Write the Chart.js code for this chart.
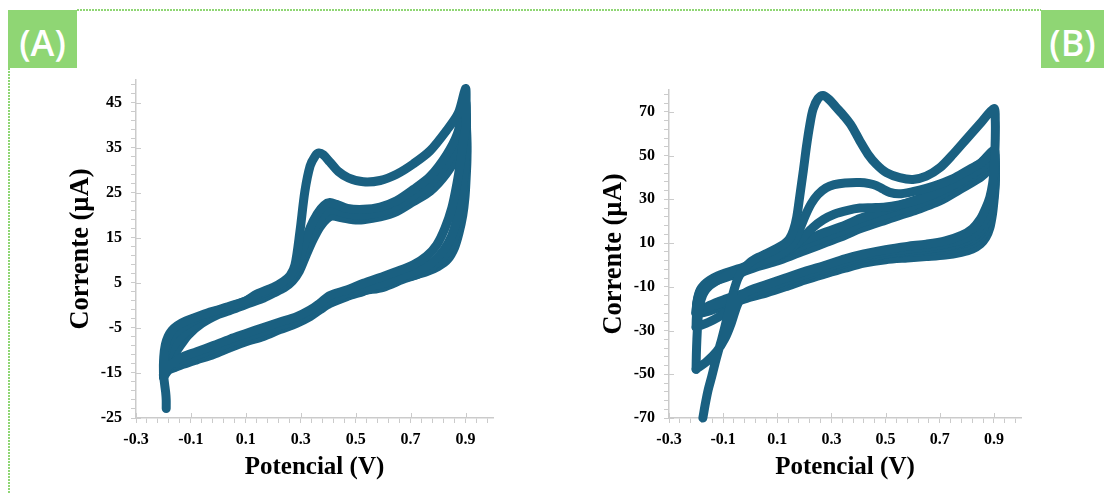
<!DOCTYPE html>
<html>
<head>
<meta charset="utf-8">
<script src="https://cdn.jsdelivr.net/npm/chart.js@4/dist/chart.umd.min.js"></script>
<style>
  html, body { margin: 0; padding: 0; background: #ffffff; }
  #stage { position: relative; width: 1104px; height: 493px; overflow: hidden; background: #ffffff; }
  .panel { position: absolute; top: 0; height: 493px; }
  .tag {
    position: absolute; top: 10px; height: 58px; background: #8fd674; color: #ffffff;
    font-family: "Open Sans", sans-serif; font-weight: 600; font-size: 36px;
    display: flex; align-items: center; justify-content: center; z-index: 3;
  }
  .tag span { position: relative; top: 3px; }
  #dotTop {
    position: absolute; left: 77px; top: 9px; width: 964px; height: 2px; z-index: 2;
    background-image: repeating-linear-gradient(to right, #8fd674 0 2px, transparent 2px 3px);
  }
  #dotLeft {
    position: absolute; left: 8px; top: 68px; width: 2px; height: 425px; z-index: 2;
    background-image: repeating-linear-gradient(to bottom, #8fd674 0 2px, transparent 2px 3px);
  }
</style>
</head>
<body>
<div id="stage">
  <div id="dotTop"></div>
  <div id="dotLeft"></div>
  <div class="tag" style="left:8px;width:69px;"><span>(A)</span></div>
  <div class="tag" style="left:1041px;width:63px;"><span>(B)</span></div>
  <div class="panel" style="left:0;width:530px;"><canvas id="chartA" width="530" height="493"></canvas></div>
  <div class="panel" style="left:530px;width:574px;"><canvas id="chartB" width="574" height="493"></canvas></div>
</div>
<script>
// ---- shared axis ticks (potential, V) ----
const xTicks = [-0.3, -0.26, -0.22, -0.18, -0.14, -0.1, -0.06, -0.02, 0.02, 0.06, 0.1, 0.14, 0.18, 0.22, 0.26,
  0.3, 0.34, 0.38, 0.42, 0.46, 0.5, 0.54, 0.58, 0.62, 0.66, 0.7, 0.74, 0.78, 0.82, 0.86, 0.9, 0.94, 0.98];
const xLabels = [-0.3, -0.1, 0.1, 0.3, 0.5, 0.7, 0.9];

// ---- panel A current ticks (µA) ----
const aYTicks = [-25, -23, -21, -19, -17, -15, -13, -11, -9, -7, -5, -3, -1, 1, 3, 5, 7, 9, 11, 13, 15, 17, 19,
  21, 23, 25, 27, 29, 31, 33, 35, 37, 39, 41, 43, 45, 47, 49];
const aYLabels = [-25, -15, -5, 5, 15, 25, 35, 45];

// ---- panel B current ticks (µA) ----
const bYTicks = [-70, -66, -62, -58, -54, -50, -46, -42, -38, -34, -30, -26, -22, -18, -14, -10, -6, -2, 2, 6, 10,
  14, 18, 22, 26, 30, 34, 38, 42, 46, 50, 54, 58, 62, 66, 70, 74, 78];
const bYLabels = [-70, -50, -30, -10, 10, 30, 50, 70];

// ---- panel A voltammograms: potential (V) / current (µA), forward then reverse sweep ----
const aV1 = [-0.19, -0.19, -0.192, -0.196, -0.2, -0.199, -0.193, -0.183, -0.17, -0.15, -0.12, -0.08, -0.04, 0.0, 0.04,
  0.1, 0.14, 0.2, 0.237, 0.261, 0.279, 0.297, 0.315, 0.334, 0.352, 0.366, 0.382, 0.406, 0.437, 0.473, 0.528, 0.589,
  0.649, 0.71, 0.771, 0.831, 0.874, 0.9,
  0.902, 0.902, 0.892, 0.882, 0.868, 0.85, 0.825, 0.795, 0.758, 0.71, 0.649, 0.589, 0.528, 0.467, 0.406, 0.37, 0.334,
  0.285, 0.224, 0.164, 0.103, 0.042, -0.018, -0.079, -0.128, -0.158, -0.182, -0.2];
const aI1 = [-22.9, -21.0, -19.3, -17.4, -15.0, -11.5, -8.7, -6.9, -5.6, -4.5, -3.5, -2.6, -1.7, -1.0, -0.2,
  1.0, 2.5, 4.0, 5.3, 6.6, 9.0, 16.4, 25.3, 30.9, 33.1, 33.8, 33.4, 31.8, 29.7, 28.3, 27.4, 27.7,
  29.1, 31.4, 34.3, 38.8, 42.7, 48.1,
  44.6, 40.1, 36.4, 32.0, 26.8, 21.6, 17.1, 13.4, 10.9, 9.0, 7.5, 6.2, 4.9, 3.4, 2.2, 0.5, -1.0,
  -2.5, -3.7, -4.9, -6.2, -7.5, -8.9, -10.3, -11.4, -12.5, -13.6, -15.1];

const aV2 = [-0.2, -0.198, -0.19, -0.178, -0.16, -0.13, -0.09, -0.04, 0.0, 0.04, 0.1, 0.16, 0.2, 0.24, 0.265, 0.285,
  0.31, 0.334, 0.36, 0.385, 0.406, 0.43, 0.47, 0.528, 0.589, 0.649, 0.71, 0.771, 0.831, 0.87, 0.9,
  0.903, 0.903, 0.9, 0.895, 0.885, 0.87, 0.85, 0.82, 0.78, 0.73, 0.67, 0.6, 0.528, 0.467, 0.406, 0.37, 0.334, 0.285,
  0.224, 0.164, 0.103, 0.042, -0.018, -0.079, -0.128, -0.158, -0.182, -0.2];
const aI2 = [-15.1, -12.5, -9.8, -7.9, -6.3, -4.8, -3.4, -2.0, -1.1, -0.4, 1.0, 2.6, 3.6, 4.8, 6.0, 8.3,
  13.0, 17.2, 20.3, 22.2, 22.8, 22.4, 21.5, 21.3, 21.8, 23.2, 25.7, 28.6, 33.4, 38.0, 45.0,
  41, 37, 33, 29, 24, 19.5, 15.5, 12.2, 9.6, 7.8, 6.4, 4.8, 3.9, 2.6, 1.3, -0.3, -1.8, -3.3,
  -4.5, -5.8, -7.0, -8.3, -9.7, -11.1, -12.2, -13.0, -14.0, -15.4];

const aV3 = [-0.2, -0.198, -0.192, -0.182, -0.165, -0.14, -0.1, -0.05, 0.0, 0.04, 0.1, 0.16, 0.2, 0.24, 0.265, 0.29,
  0.315, 0.34, 0.365, 0.39, 0.41, 0.44, 0.48, 0.528, 0.589, 0.649, 0.71, 0.771, 0.831, 0.87, 0.9,
  0.904, 0.904, 0.9, 0.894, 0.884, 0.87, 0.85, 0.82, 0.78, 0.73, 0.67, 0.6, 0.528, 0.467, 0.406, 0.37, 0.334, 0.285,
  0.224, 0.164, 0.103, 0.042, -0.018, -0.079, -0.128, -0.158, -0.182, -0.2];
const aI3 = [-15.4, -14.2, -12.8, -11.0, -9.2, -7.3, -5.0, -3.1, -1.6, -0.9, 0.6, 2.0, 3.2, 4.3, 5.6, 7.8,
  12.0, 15.8, 18.7, 20.6, 21.2, 20.8, 20.2, 20.0, 20.6, 22.0, 24.3, 27.0, 31.5, 35.5, 42.5,
  38, 34, 30, 25.5, 21, 17, 13.5, 10.8, 8.6, 7.0, 5.7, 4.0, 3.2, 2.1, 0.8, -0.7, -2.2, -3.7,
  -5.0, -6.4, -7.5, -8.9, -10.3, -11.6, -12.7, -13.4, -14.2, -15.8];

const aV4 = [-0.2, -0.2, -0.195, -0.185, -0.17, -0.148, -0.11, -0.06, 0.0, 0.04, 0.1, 0.16, 0.2, 0.24, 0.27, 0.295,
  0.32, 0.345, 0.37, 0.395, 0.415, 0.45, 0.49, 0.528, 0.589, 0.649, 0.71, 0.771, 0.831, 0.87, 0.9,
  0.905, 0.905, 0.902, 0.898, 0.89, 0.876, 0.86, 0.835, 0.8, 0.76, 0.71, 0.649, 0.589, 0.528, 0.467, 0.406, 0.37,
  0.334, 0.285, 0.224, 0.164, 0.103, 0.042, -0.018, -0.079, -0.128, -0.158, -0.182, -0.2];
const aI4 = [-15.8, -15.2, -14.5, -13.3, -11.8, -9.8, -6.6, -4.0, -2.0, -1.2, 0.2, 1.5, 2.7, 3.9, 5.4, 7.6,
  11.2, 14.6, 17.4, 19.2, 19.8, 19.4, 19.0, 19.0, 19.6, 20.8, 23.0, 25.3, 29.3, 33.5, 40.5,
  36, 32, 28, 24, 20, 16, 12.8, 10.2, 8.6, 7.5, 6.6, 5.6, 4.4, 3.1, 1.9, 0.4, -1.0,
  -2.5, -4.0, -5.4, -6.9, -8.0, -9.4, -10.9, -12.1, -13.1, -13.8, -14.4, -16.0];

// ---- panel B voltammograms ----
const bV1 = [-0.175, -0.165, -0.155, -0.142, -0.13, -0.118, -0.106, -0.093, -0.081, -0.07, -0.06, -0.045, -0.025, 0.0,
  0.03, 0.06, 0.097, 0.125, 0.145, 0.16, 0.172, 0.183, 0.196, 0.208, 0.22, 0.232, 0.25, 0.269, 0.29, 0.318, 0.349,
  0.374, 0.405, 0.435, 0.466, 0.503, 0.552, 0.601, 0.65, 0.7, 0.749, 0.798, 0.847, 0.9,
  0.905, 0.905, 0.903, 0.9, 0.895, 0.885, 0.87, 0.85, 0.82, 0.78, 0.72, 0.65, 0.58, 0.5, 0.42, 0.35, 0.28, 0.2,
  0.13, 0.06, 0.0, -0.03, -0.05, -0.07, -0.093, -0.124, -0.161, -0.2];
const bI1 = [-70, -63, -57, -51, -45, -39.5, -34.3, -28, -22, -16.5, -11.5, -6, -2, 1.2,
  3.5, 5.2, 7.5, 9.5, 12, 16, 22, 31.5, 43, 54.4, 64, 71.2, 76, 77.5, 75.8, 72, 67.7,
  63.6, 56.7, 50.6, 46, 42.2, 39.9, 39.1, 40.6, 44.4, 50.6, 57.5, 64.3, 71.5,
  66, 58, 50, 43, 37, 31, 26, 21, 16.5, 13.5, 11, 9.5, 8.5, 7, 5, 2.8, 0, -3,
  -6, -9, -11.5, -14, -19, -26.6, -33.5, -39.6, -44.2, -47.7];

const bV2 = [-0.2, -0.199, -0.197, -0.194, -0.19, -0.182, -0.17, -0.15, -0.12, -0.09, -0.05, 0.0, 0.05, 0.1, 0.14,
  0.165, 0.185, 0.205, 0.225, 0.25, 0.28, 0.31, 0.35, 0.405, 0.44, 0.466, 0.49, 0.515, 0.55, 0.6, 0.65, 0.7, 0.75,
  0.8, 0.85, 0.9,
  0.905, 0.905, 0.903, 0.9, 0.895, 0.885, 0.87, 0.85, 0.82, 0.78, 0.72, 0.65, 0.58, 0.5, 0.42, 0.35, 0.28, 0.2,
  0.13, 0.06, 0.0, -0.05, -0.1, -0.15, -0.2];
const bI2 = [-47.7, -41, -34, -27, -21, -16, -12.5, -9.5, -7, -5, -2.8, -0.5, 1.8, 4.2, 7.5,
  11.5, 17, 23, 28, 32.2, 35.2, 36.7, 37.5, 37.7, 37.2, 36.3, 34.7, 33.2, 32.5, 33.5, 35, 37, 39.5,
  43, 46.5, 51,
  47, 43, 39, 35, 31, 26, 21.5, 17.5, 14, 11.5, 9.5, 8.2, 7.2, 6, 4, 1.5, -1.2, -4.5,
  -7.5, -10.5, -13, -17, -22.5, -26, -28.5];

const bV3 = [-0.2, -0.199, -0.196, -0.19, -0.18, -0.165, -0.14, -0.11, -0.07, -0.03, 0.0, 0.05, 0.1, 0.15, 0.19,
  0.23, 0.27, 0.31, 0.36, 0.405, 0.45, 0.5, 0.55, 0.6, 0.65, 0.7, 0.75, 0.8, 0.85, 0.9,
  0.905, 0.905, 0.903, 0.9, 0.895, 0.885, 0.87, 0.85, 0.82, 0.78, 0.72, 0.65, 0.58, 0.5, 0.42, 0.35, 0.28, 0.2,
  0.13, 0.06, 0.0, -0.05, -0.1, -0.15, -0.2];
const bI3 = [-28.5, -24, -20, -16, -12.5, -10, -7.8, -5.8, -3.6, -1.6, -0.3, 2, 4.3, 7.5, 12,
  17, 20.7, 23.2, 25, 26, 26.2, 26.5, 27.5, 29, 31, 33.5, 36.5, 40, 44, 49,
  45, 41, 37, 33, 28.5, 23.5, 19, 15.5, 12.5, 10.2, 8.4, 7.2, 6.3, 5, 3, 0.6, -2.2, -5.5,
  -8.5, -11.5, -13.5, -15.3, -17.2, -19.2, -22];

const bV4 = [-0.2, -0.198, -0.193, -0.185, -0.17, -0.15, -0.12, -0.087, -0.05, -0.026, 0.0, 0.036, 0.1, 0.159, 0.2,
  0.25, 0.282, 0.35, 0.405, 0.5, 0.6, 0.65, 0.7, 0.774, 0.85, 0.9,
  0.905, 0.905, 0.903, 0.9, 0.895, 0.885, 0.87, 0.85, 0.82, 0.78, 0.72, 0.65, 0.58, 0.5, 0.42, 0.35, 0.28, 0.2,
  0.13, 0.06, 0.0, -0.05, -0.1, -0.15, -0.2];
const bI4 = [-22, -18, -14.5, -11.5, -9, -7, -5, -3.5, -2, -1, 0.3, 2.8, 5.5, 8.8, 11.2,
  13.6, 15.2, 18.2, 21.2, 25.2, 29.2, 31.5, 34, 40.5, 46.5, 52.5,
  48, 44, 40, 35.5, 30, 24, 18.5, 14, 11.3, 9.5, 8.3, 7.5, 7, 6.2, 4.4, 2.2, -0.6, -4,
  -7.2, -10.2, -12.2, -14, -16, -18.5, -22];

const bV5 = bV4;
const bI5 = [-22, -18.5, -15, -12, -9.5, -7.8, -6, -4.5, -3, -2, -0.8, 1.5, 4, 7, 9.2,
  11.5, 13, 16, 19, 23, 27, 29.3, 31.7, 37, 42.5, 47.5,
  43.5, 39.5, 35.5, 31.5, 26.5, 20.5, 15.5, 12.2, 9.8, 8.2, 7.0, 6.3, 5.8, 5.0, 3.2, 1.0, -1.5, -4.5,
  -7.8, -10.8, -13, -15, -17, -19.5, -22];

const bV6 = bV4;
const bI6 = [-22, -19, -15.5, -12.5, -10.2, -8.6, -7, -5.6, -4.2, -3.2, -2, -0.5, 1.8, 4.5, 6.5,
  8.8, 10.3, 13.5, 16.5, 20.5, 24.5, 26.8, 29.2, 34.5, 40, 45,
  41, 37, 33, 29, 23.5, 17, 12.5, 9.5, 7.2, 5.8, 4.5, 3.8, 3.2, 2.4, 0.8, -1.5, -4, -7,
  -10, -12.8, -14.8, -16.8, -18.8, -21, -22.5];

const SERIES_COLOR = '#1a6081';
const AXIS_GRAY = '#cbcbcb';
const SERIF = '"Liberation Serif", "Times New Roman", serif';

function points(vs, is) {
  return vs.map((v, k) => ({ x: v, y: is[k] }));
}

function trace(vs, is) {
  return {
    data: points(vs, is),
    showLine: true,
    borderColor: SERIES_COLOR,
    backgroundColor: SERIES_COLOR,
    borderWidth: 9,
    borderCapStyle: 'round',
    borderJoinStyle: 'round',
    pointRadius: 0,
    pointHoverRadius: 0,
    tension: 0.3,
    clip: false
  };
}

function isLabel(list, v) {
  return list.some(l => Math.abs(l - v) < 1e-6);
}

// major ticks also poke a few pixels into the plot area
const crossTicks = {
  id: 'crossTicks',
  beforeDatasetsDraw(chart, args, opts) {
    const { ctx, chartArea, scales } = chart;
    ctx.save();
    ctx.strokeStyle = AXIS_GRAY;
    ctx.lineWidth = 1;
    opts.yMajors.forEach(v => {
      const y = Math.round(scales.y.getPixelForValue(v)) + 0.5;
      ctx.beginPath(); ctx.moveTo(chartArea.left, y); ctx.lineTo(chartArea.left + 5, y); ctx.stroke();
    });
    opts.xMajors.forEach(v => {
      const x = Math.round(scales.x.getPixelForValue(v)) + 0.5;
      ctx.beginPath(); ctx.moveTo(x, chartArea.bottom); ctx.lineTo(x, chartArea.bottom - 5); ctx.stroke();
    });
    ctx.restore();
  }
};

function makeChart(id, datasets, cfg) {
  return new Chart(document.getElementById(id), {
    type: 'scatter',
    data: { datasets },
    plugins: [crossTicks],
    options: {
      responsive: false,
      animation: false,
      devicePixelRatio: 1,
      layout: { padding: { left: 0, top: cfg.top, right: cfg.right, bottom: 0 } },
      plugins: {
        legend: { display: false },
        tooltip: { enabled: false },
        crossTicks: { xMajors: xLabels, yMajors: cfg.yLabels }
      },
      scales: {
        x: {
          type: 'linear', min: -0.3, max: 1.0,
          afterBuildTicks: s => { s.ticks = xTicks.map(v => ({ value: v })); },
          afterFit: s => { s.height = 75; },
          ticks: {
            autoSkip: false, maxRotation: 0, padding: 7, color: '#000',
            font: { family: SERIF, size: 16, weight: 'bold' },
            callback: v => isLabel(xLabels, v) ? String(xLabels.find(l => Math.abs(l - v) < 1e-6)) : ''
          },
          grid: { drawOnChartArea: false, drawTicks: true, tickLength: 5, tickColor: AXIS_GRAY, tickWidth: 1 },
          border: { color: AXIS_GRAY, width: 1.5 },
          title: {
            display: true, text: 'Potencial (V)', color: '#000',
            font: { family: SERIF, size: 25, weight: 'bold' },
            padding: { top: 0, bottom: 10 }
          }
        },
        y: {
          type: 'linear', min: cfg.yMin, max: cfg.yMax,
          afterBuildTicks: s => { s.ticks = cfg.yTicks.map(v => ({ value: v })); },
          afterFit: s => { s.width = cfg.yWidth; },
          ticks: {
            autoSkip: false, padding: 9, color: '#000',
            font: { family: SERIF, size: 16, weight: 'bold' },
            callback: v => isLabel(cfg.yLabels, v) ? String(Math.round(v)) : ''
          },
          grid: { drawOnChartArea: false, drawTicks: true, tickLength: 5, tickColor: AXIS_GRAY, tickWidth: 1 },
          border: { color: AXIS_GRAY, width: 1.5 },
          title: {
            display: true, text: 'Corrente (µA)', color: '#000',
            font: { family: SERIF, size: 26.5, weight: 'bold' },
            padding: { top: cfg.titleGap, bottom: 0 }
          }
        }
      }
    }
  });
}

makeChart('chartA', [
  trace(aV1, aI1), trace(aV2, aI2), trace(aV3, aI3), trace(aV4, aI4)
], { top: 80, right: 37, yWidth: 136, yMin: -25, yMax: 50, yTicks: aYTicks, yLabels: aYLabels, titleGap: 65.5 });

makeChart('chartB', [
  trace(bV1, bI1), trace(bV2, bI2), trace(bV3, bI3), trace(bV4, bI4), trace(bV5, bI5), trace(bV6, bI6)
], { top: 90, right: 83, yWidth: 139, yMin: -70, yMax: 80, yTicks: bYTicks, yLabels: bYLabels, titleGap: 68 });
</script>
</body>
</html>
